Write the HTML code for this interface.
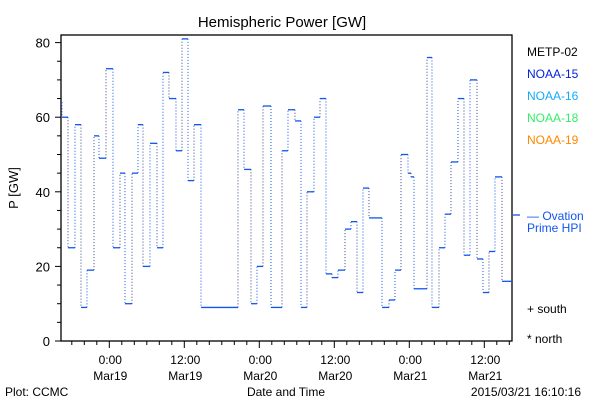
<!DOCTYPE html>
<html><head><meta charset="utf-8"><style>
body{margin:0;background:#fff;}
svg{display:block;font-family:"Liberation Sans",sans-serif;}
</style></head><body>
<svg id="chart" width="600" height="400" viewBox="0 0 600 400">
<rect width="600" height="400" fill="#fff"/>
<text x="282" y="27" font-size="15" text-anchor="middle" fill="#000">Hemispheric Power [GW]</text>
<rect x="61" y="35" width="451" height="306" fill="none" stroke="#000" stroke-width="1.3"/>
<g id="yaxis"></g>
<g id="xaxis"></g>
<g id="series"></g>
<text transform="translate(18,188) rotate(-90)" font-size="13" text-anchor="middle">P [GW]</text>
<text x="286" y="396" font-size="12" text-anchor="middle">Date and Time</text>
<text x="5" y="396" font-size="12">Plot: CCMC</text>
<text x="581" y="396" font-size="12" text-anchor="end">2015/03/21 16:10:16</text>
<g font-size="12">
<text x="527" y="56" fill="#000">METP-02</text>
<text x="527" y="78" fill="#0022dd">NOAA-15</text>
<text x="527" y="100" fill="#11aaff">NOAA-16</text>
<text x="527" y="122" fill="#33ee66">NOAA-18</text>
<text x="527" y="144" fill="#ff8800">NOAA-19</text>
<line x1="513" y1="215" x2="520" y2="215" stroke="#1155ee" stroke-width="1.3"/>
<text x="527" y="220" fill="#1155ee">— Ovation</text>
<text x="527" y="232" fill="#1155ee">Prime HPI</text>
<text x="527" y="313" fill="#000">+ south</text>
<text x="527" y="343" fill="#000">* north</text>
</g>
</svg>
<script>
const segStartHours=[-7.73,-7.57,-6.61,-5.49,-4.53,-3.57,-2.45,-1.65,-0.53,0.59,1.71,2.51,3.63,4.59,5.39,6.51,7.63,8.59,9.55,10.67,11.63,12.59,13.55,14.67,20.59,21.55,22.67,23.63,24.59,25.87,27.63,28.59,29.71,30.67,31.63,32.75,33.71,34.67,35.63,36.59,37.71,38.67,39.63,40.59,41.55,43.63,44.75,45.71,46.67,47.79,48.27,48.75,50.83,51.63,52.75,53.71,54.67,55.79,56.75,57.71,58.83,59.79,60.75,61.71,62.83];
const segEndHour=64.43;
const powerValues=[64,60,25,58,9,19,55,49,73,25,45,10,45,58,20,53,25,72,65,51,81,43,58,9,62,46,10,20,63,9,51,62,59,9,40,60,65,18,17,19,30,32,13,41,33,9,11,19,50,45,44,14,76,9,25,34,48,65,23,70,22,13,24,44,16];
const yTicks=[0,20,40,60,80];
const xTickHours=[0,12,24,36,48,60];
const xTickTimes=["0:00","12:00","0:00","12:00","0:00","12:00"];
const xTickDates=["Mar19","Mar19","Mar20","Mar20","Mar21","Mar21"];

const NS="http://www.w3.org/2000/svg";
const X0=109.3, PXH=6.25, Y0=341, PXG=3.73;
const xs=h=>X0+h*PXH;
const ys=v=>Y0-v*PXG;
function mk(tag,attrs,parent){const e=document.createElementNS(NS,tag);for(const k in attrs)e.setAttribute(k,attrs[k]);parent.appendChild(e);return e;}
const ya=document.getElementById('yaxis'), xa=document.getElementById('xaxis'), sg=document.getElementById('series');
for(let v=0;v<=80;v+=5){
  const t=mk('line',{x1:61-(v%20===0?6:4),x2:61,y1:ys(v),y2:ys(v),stroke:'#000','stroke-width':1},ya);
  
  
}
yTicks.forEach(v=>{
  const t=mk('text',{x:50,y:ys(v)+5,'font-size':13,'text-anchor':'end'},ya);
  t.textContent=String(v);
  
  
});
for(let h=-6;h<=64;h+=2){
  const major=h%12===0;
  const t=mk('line',{x1:xs(h),x2:xs(h),y1:341,y2:341+(major?7:4),stroke:'#000','stroke-width':1},xa);
  
  
}
xTickHours.forEach((h,i)=>{
  const a=mk('text',{x:xs(h)+1,y:364,'font-size':12,'text-anchor':'middle'},xa);
  a.textContent=xTickTimes[i];
  
  
  const b=mk('text',{x:xs(h)+1,y:380,'font-size':12,'text-anchor':'middle'},xa);
  b.textContent=xTickDates[i];
  
  
});
for(let i=0;i<powerValues.length;i++){
  const h0=segStartHours[i], h1=i+1<segStartHours.length?segStartHours[i+1]:segEndHour;
  const s=mk('line',{x1:xs(h0),x2:xs(h1),y1:ys(powerValues[i]),y2:ys(powerValues[i]),stroke:'#1155ee','stroke-width':1.3},sg);
  
  
  if(i+1<powerValues.length){
    const c=mk('line',{x1:xs(h1),x2:xs(h1),y1:ys(powerValues[i]),y2:ys(powerValues[i+1]),stroke:i%2?'#334488':'#1155ee','stroke-width':1,'stroke-dasharray':'1 2'},sg);
    
    
  }
}
</script>
</body></html>
